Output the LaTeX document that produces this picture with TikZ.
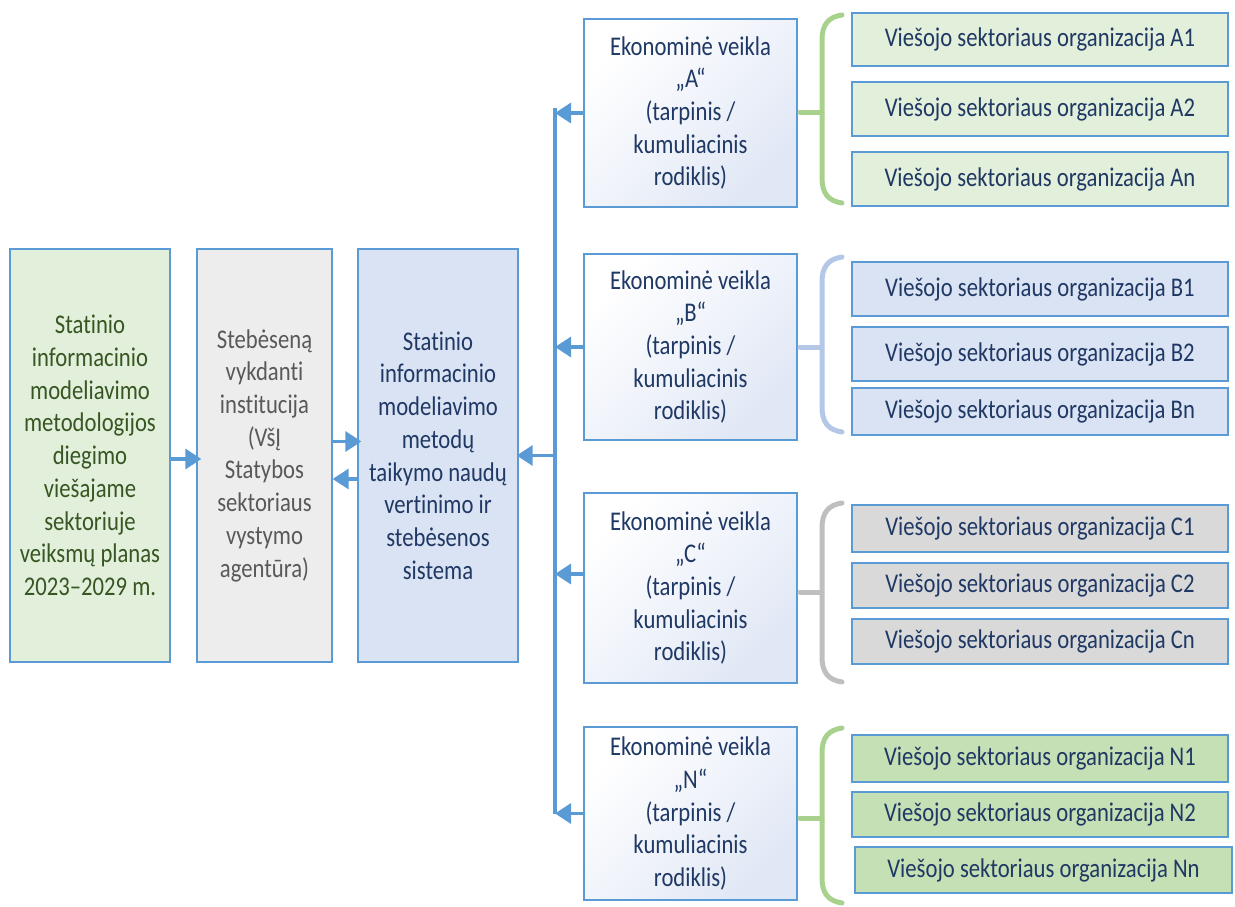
\documentclass[tikz,border=0pt]{standalone}
\usepackage{fontspec}
\setmainfont[FakeStretch=0.84,RawFeature={-liga;-dlig}]{Carlito}
\usetikzlibrary{arrows.meta,shadows}
\definecolor{bord}{HTML}{5B9BD5}
\definecolor{arrc}{HTML}{5B9BD5}
\definecolor{navy}{HTML}{1F3864}
\definecolor{dgreen}{HTML}{375623}
\definecolor{dgrey}{HTML}{595959}
\definecolor{fgreen}{HTML}{E2EFDA}
\definecolor{fgreen2}{HTML}{C5E0B4}
\definecolor{fgrey}{HTML}{EDEDED}
\definecolor{fgrey2}{HTML}{D9D9D9}
\definecolor{fblue}{HTML}{DAE3F3}
\definecolor{ekfill}{HTML}{E0E7F5}
\definecolor{brgreen}{HTML}{A9D18E}
\definecolor{brblue}{HTML}{B4C7E7}
\definecolor{brgrey}{HTML}{BFBFBF}
\newcommand\mybrace[4]{%
  \draw[bracestyle, draw=#1] (842,#2) .. controls (828,{#2+2}) and (822,{#2+10}) .. (822,{#2+25})
     -- (822,{#4-25}) .. controls (822,{#4-10}) and (828,{#4-2}) .. (842,#4);
  \draw[bracestyle, draw=#1] (800,#3) -- (822,#3);}
\begin{document}
\begin{tikzpicture}[x=1pt,y=-1pt,
  box/.style={draw=bord, line width=1.3pt, inner sep=0pt, align=center,
    font=\fontsize{27}{32.7}\selectfont},
  bigbox/.style={box, minimum width=#1, minimum height=413pt},
  ekbox/.style={box, minimum width=213pt, text=navy, top color=white, bottom color=ekfill, shading angle=45},
  org/.style={box, minimum width=376pt, text=navy,
    drop shadow={shadow xshift=1pt, shadow yshift=-1.2pt, opacity=0.25}},
  arr/.style={draw=arrc, line width=3.3pt, -{Triangle[length=16pt,width=20pt]}},
  bracestyle/.style={line width=5pt, line cap=round}]
\useasboundingbox (0,0) rectangle (1235,907);

% main chain
\node[bigbox=160pt, fill=fgreen, text=dgreen] (b1) at (90,455.5)
  {Statinio\\informacinio\\modeliavimo\\metodologijos\\diegimo\\viešajame\\sektoriuje\\veiksmų planas\\2023–2029 m.};
\node[bigbox=135pt, fill=fgrey, text=dgrey] (b2) at (264.5,455.5)
  {Stebėseną\\vykdanti\\institucija\\(VšĮ\\Statybos\\sektoriaus\\vystymo\\agentūra)};
\node[bigbox=160pt, fill=fblue, text=navy] (b3) at (438,455.5)
  {Statinio\\informacinio\\modeliavimo\\metodų\\taikymo naudų\\vertinimo ir\\stebėsenos\\sistema};

% economic activity boxes
\node[ekbox, minimum height=188pt] (ekA) at (690.5,113)
  {Ekonominė veikla\\„A“\\(tarpinis /\\kumuliacinis\\rodiklis)};
\node[ekbox, minimum height=186pt] (ekB) at (690.5,347)
  {Ekonominė veikla\\„B“\\(tarpinis /\\kumuliacinis\\rodiklis)};
\node[ekbox, minimum height=190pt] (ekC) at (690.5,588)
  {Ekonominė veikla\\„C“\\(tarpinis /\\kumuliacinis\\rodiklis)};
\node[ekbox, minimum height=173pt] (ekN) at (690.5,813.5)
  {Ekonominė veikla\\„N“\\(tarpinis /\\kumuliacinis\\rodiklis)};

% organisations
\node[org, fill=fgreen, minimum height=53pt] (oA1) at (1040,39.5) {Viešojo sektoriaus organizacija A1};
\node[org, fill=fgreen, minimum height=54pt] (oA2) at (1040,109) {Viešojo sektoriaus organizacija A2};
\node[org, fill=fgreen, minimum height=54pt] (oAn) at (1040,179) {Viešojo sektoriaus organizacija An};
\node[org, fill=fblue, minimum height=54pt] (oB1) at (1040,289) {Viešojo sektoriaus organizacija B1};
\node[org, fill=fblue, minimum height=54pt] (oB2) at (1040,354) {Viešojo sektoriaus organizacija B2};
\node[org, fill=fblue, minimum height=47pt] (oBn) at (1040,411.5) {Viešojo sektoriaus organizacija Bn};
\node[org, fill=fgrey2, minimum height=47pt] (oC1) at (1040,528.5) {Viešojo sektoriaus organizacija C1};
\node[org, fill=fgrey2, minimum height=45pt] (oC2) at (1040,585.5) {Viešojo sektoriaus organizacija C2};
\node[org, fill=fgrey2, minimum height=45pt] (oCn) at (1040,641.5) {Viešojo sektoriaus organizacija Cn};
\node[org, fill=fgreen2, minimum height=47pt] (oN1) at (1040,758.5) {Viešojo sektoriaus organizacija N1};
\node[org, fill=fgreen2, minimum height=45pt] (oN2) at (1040,814.5) {Viešojo sektoriaus organizacija N2};
\node[org, fill=fgreen2, minimum height=46pt, minimum width=377pt] (oNn) at (1043.5,870) {Viešojo sektoriaus organizacija Nn};

% braces
\mybrace{brgreen}{15}{112}{203}
\mybrace{brblue}{257}{347}{432}
\mybrace{brgrey}{503}{592}{682}
\mybrace{brgreen}{728}{818}{903}

% spine
\coordinate (spT) at (555,108);
\coordinate (spB) at (555,813.5);
\draw[draw=arrc, line width=3.3pt] (spT) -- (spB);

% connectors
\draw[arr, shorten >=-5pt] ([yshift=-3.5pt]b1.east) -- ([yshift=-3.5pt]b2.west);
\draw[arr, shorten >=-4pt] ([yshift=14pt]b2.east) -- ([yshift=14pt]b3.west);
\draw[arr] ([yshift=-23.5pt]b3.west) -- ([yshift=-23.5pt]b2.east);
\draw[arr, shorten >=-2pt] (b3.east -| spT) -- (b3.east);
\draw[arr] (ekA.west) -- (ekA.west -| spT);
\draw[arr] (ekB.west) -- (ekB.west -| spT);
\draw[arr] ([yshift=14pt]ekC.west) -- ([yshift=14pt]ekC.west -| spT);
\draw[arr] (ekN.west) -- (ekN.west -| spT);
\end{tikzpicture}
\end{document}
